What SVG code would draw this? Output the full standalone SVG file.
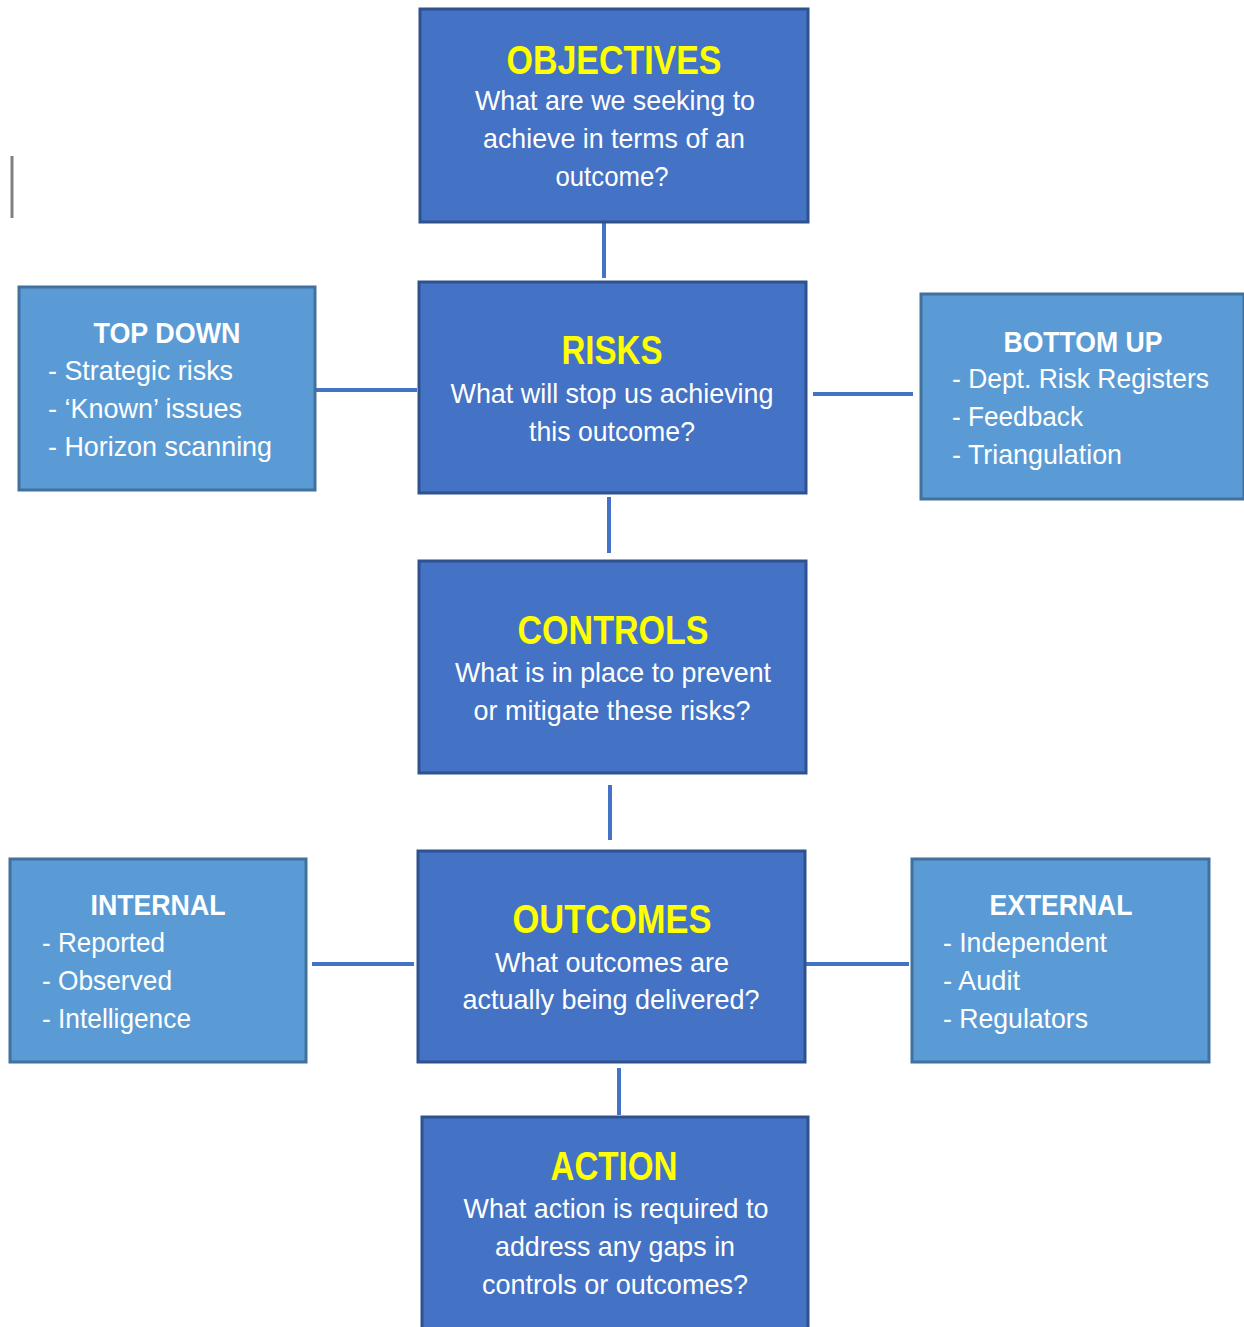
<svg xmlns="http://www.w3.org/2000/svg" width="1244" height="1327" viewBox="0 0 1244 1327">
<style>
.main{fill:#4472C4;stroke:#2F528F;stroke-width:3}
.side{fill:#5B9BD5;stroke:#41719C;stroke-width:3}
.t{font-family:"Liberation Sans",Arial,sans-serif;font-weight:bold;font-size:40px;fill:#FFFF00;text-anchor:middle}
.st{font-family:"Liberation Sans",Arial,sans-serif;font-weight:bold;font-size:29px;fill:#FFFFFF;text-anchor:middle}
.b{font-family:"Liberation Sans",Arial,sans-serif;font-size:28px;fill:#FFFFFF;text-anchor:middle}
.l{font-family:"Liberation Sans",Arial,sans-serif;font-size:28px;fill:#FFFFFF}
.c{stroke:#4472C4;stroke-width:4;fill:none}
</style>
<rect width="1244" height="1327" fill="#FFFFFF"/>
<line x1="12" y1="156" x2="12" y2="218" stroke="#808080" stroke-width="3"/>
<g id="connectors">
<line class="c" x1="604" y1="222" x2="604" y2="278"/>
<line class="c" x1="609" y1="497" x2="609" y2="553"/>
<line class="c" x1="610" y1="785" x2="610" y2="840"/>
<line class="c" x1="619" y1="1068" x2="619" y2="1115"/>
<line class="c" x1="315" y1="390" x2="417" y2="390"/>
<line class="c" x1="813" y1="394" x2="913" y2="394"/>
<line class="c" x1="312" y1="964" x2="414" y2="964"/>
<line class="c" x1="806" y1="964" x2="909" y2="964"/>
</g>
<g id="objectives">
<rect class="main" x="420" y="9" width="388" height="213"/>
<text class="t" x="614" y="74" textLength="215" lengthAdjust="spacingAndGlyphs">OBJECTIVES</text>
<text class="b" x="615" y="110" textLength="280" lengthAdjust="spacingAndGlyphs">What are we seeking to</text>
<text class="b" x="614" y="148" textLength="262" lengthAdjust="spacingAndGlyphs">achieve in terms of an</text>
<text class="b" x="612" y="186" textLength="113" lengthAdjust="spacingAndGlyphs">outcome?</text>
</g>
<g id="risks">
<rect class="main" x="419" y="282" width="387" height="211"/>
<text class="t" x="612" y="364" textLength="101" lengthAdjust="spacingAndGlyphs">RISKS</text>
<text class="b" x="612" y="403" textLength="323" lengthAdjust="spacingAndGlyphs">What will stop us achieving</text>
<text class="b" x="612" y="441" textLength="166" lengthAdjust="spacingAndGlyphs">this outcome?</text>
</g>
<g id="topdown">
<rect class="side" x="19" y="287" width="296" height="203"/>
<text class="st" x="167" y="343" textLength="147" lengthAdjust="spacingAndGlyphs">TOP DOWN</text>
<text class="l" x="48" y="380" textLength="185" lengthAdjust="spacingAndGlyphs">- Strategic risks</text>
<text class="l" x="48" y="418" textLength="194" lengthAdjust="spacingAndGlyphs">- ‘Known’ issues</text>
<text class="l" x="48" y="456" textLength="224" lengthAdjust="spacingAndGlyphs">- Horizon scanning</text>
</g>
<g id="bottomup">
<rect class="side" x="921" y="294" width="323" height="205"/>
<text class="st" x="1083" y="352" textLength="159" lengthAdjust="spacingAndGlyphs">BOTTOM UP</text>
<text class="l" x="952" y="388" textLength="257" lengthAdjust="spacingAndGlyphs">- Dept. Risk Registers</text>
<text class="l" x="952" y="426" textLength="131" lengthAdjust="spacingAndGlyphs">- Feedback</text>
<text class="l" x="952" y="464" textLength="170" lengthAdjust="spacingAndGlyphs">- Triangulation</text>
</g>
<g id="controls">
<rect class="main" x="419" y="561" width="387" height="212"/>
<text class="t" x="613" y="644" textLength="191" lengthAdjust="spacingAndGlyphs">CONTROLS</text>
<text class="b" x="613" y="682" textLength="316" lengthAdjust="spacingAndGlyphs">What is in place to prevent</text>
<text class="b" x="612" y="720" textLength="277" lengthAdjust="spacingAndGlyphs">or mitigate these risks?</text>
</g>
<g id="outcomes">
<rect class="main" x="418" y="851" width="387" height="211"/>
<text class="t" x="612" y="933" textLength="199" lengthAdjust="spacingAndGlyphs">OUTCOMES</text>
<text class="b" x="612" y="972" textLength="234" lengthAdjust="spacingAndGlyphs">What outcomes are</text>
<text class="b" x="611" y="1009" textLength="297" lengthAdjust="spacingAndGlyphs">actually being delivered?</text>
</g>
<g id="internal">
<rect class="side" x="10" y="859" width="296" height="203"/>
<text class="st" x="158" y="915" textLength="135" lengthAdjust="spacingAndGlyphs">INTERNAL</text>
<text class="l" x="42" y="952" textLength="123" lengthAdjust="spacingAndGlyphs">- Reported</text>
<text class="l" x="42" y="990" textLength="130" lengthAdjust="spacingAndGlyphs">- Observed</text>
<text class="l" x="42" y="1028" textLength="149" lengthAdjust="spacingAndGlyphs">- Intelligence</text>
</g>
<g id="external">
<rect class="side" x="912" y="859" width="297" height="203"/>
<text class="st" x="1061" y="915" textLength="143" lengthAdjust="spacingAndGlyphs">EXTERNAL</text>
<text class="l" x="943" y="952" textLength="164" lengthAdjust="spacingAndGlyphs">- Independent</text>
<text class="l" x="943" y="990" textLength="77" lengthAdjust="spacingAndGlyphs">- Audit</text>
<text class="l" x="943" y="1028" textLength="145" lengthAdjust="spacingAndGlyphs">- Regulators</text>
</g>
<g id="action">
<rect class="main" x="422" y="1117" width="386" height="214"/>
<text class="t" x="614" y="1180" textLength="127" lengthAdjust="spacingAndGlyphs">ACTION</text>
<text class="b" x="616" y="1218" textLength="305" lengthAdjust="spacingAndGlyphs">What action is required to</text>
<text class="b" x="615" y="1256" textLength="240" lengthAdjust="spacingAndGlyphs">address any gaps in</text>
<text class="b" x="615" y="1294" textLength="266" lengthAdjust="spacingAndGlyphs">controls or outcomes?</text>
</g>
</svg>
